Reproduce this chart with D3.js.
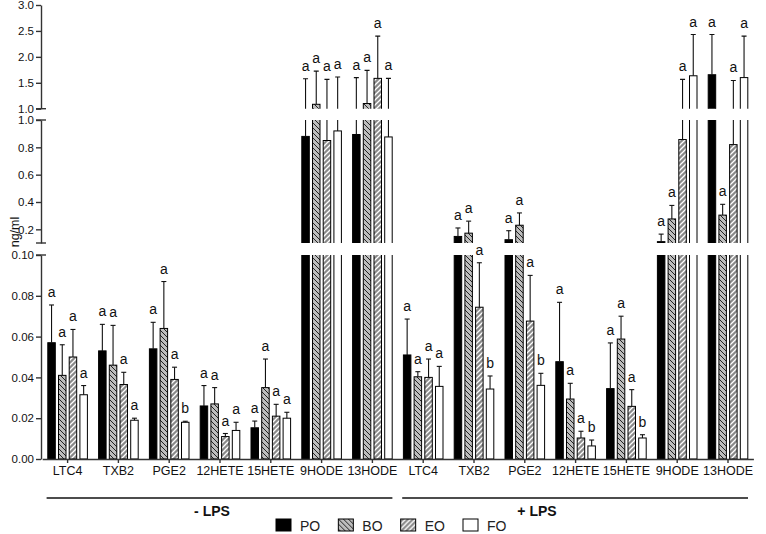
<!DOCTYPE html>
<meta charset="utf-8">
<style>
body { margin: 0; background: #fff; }
svg { display: block; font-family: "Liberation Sans", Arial, sans-serif; }
.axis path, .axis line { stroke: #333; stroke-width: 1.4; }
.axis text { font-size: 11.5px; fill: #111; }
.xaxis text { font-size: 12.5px; }
.err { stroke: #111; stroke-width: 1.1; }
.letter { font-size: 14px; fill: #111; text-anchor: middle; }
</style>
<svg width="766" height="534"></svg>
<script src="https://cdnjs.cloudflare.com/ajax/libs/d3/7.8.5/d3.min.js"></script>
<script>

var svg = d3.select("svg");

// data
var categories = ["LTC4", "TXB2", "PGE2", "12HETE", "15HETE", "9HODE", "13HODE",
                  "LTC4", "TXB2", "PGE2", "12HETE", "15HETE", "9HODE", "13HODE"];
var series = ["PO", "BO", "EO", "FO"];
var conditions = ["- LPS", "+ LPS"];

var meanPO = [0.057, 0.053, 0.054, 0.026, 0.0153, 0.88, 0.894, 0.051, 0.148, 0.124, 0.0477, 0.0345, 0.11, 1.655];
var meanBO = [0.041, 0.046, 0.064, 0.027, 0.035, 1.085, 1.10, 0.0403, 0.172, 0.23, 0.0294, 0.0588, 0.276, 0.304];
var meanEO = [0.050, 0.0365, 0.039, 0.011, 0.021, 0.85, 1.585, 0.040, 0.0744, 0.0676, 0.0103, 0.0258, 0.857, 0.82];
var meanFO = [0.0315, 0.019, 0.018, 0.014, 0.020, 0.92, 0.876, 0.0356, 0.0343, 0.0361, 0.0064, 0.0103, 1.635, 1.60];

var semPO = [0.0185, 0.013, 0.013, 0.010, 0.0033, 0.697, 0.706, 0.0176, 0.062, 0.066, 0.0291, 0.0224, 0.055, 0.775];
var semBO = [0.015, 0.0195, 0.023, 0.008, 0.014, 0.64, 0.64, 0.0025, 0.088, 0.09, 0.0077, 0.0112, 0.099, 0.079];
var semEO = [0.0135, 0.006, 0.006, 0.0015, 0.0058, 0.715, 0.815, 0.009, 0.0218, 0.0224, 0.0033, 0.0082, 0.708, 0.725];
var semFO = [0.0045, 0.001, 0.0005, 0.004, 0.0029, 0.69, 0.709, 0.0098, 0.0064, 0.0059, 0.0029, 0.0016, 0.795, 0.80];

var letterPO = ["a", "a", "a", "a", "a", "a", "a", "a", "a", "a", "a", "a", "a", "a"];
var letterBO = ["a", "a", "a", "a", "a", "a", "a", "a", "a", "a", "a", "a", "a", "a"];
var letterEO = ["a", "a", "a", "a", "a", "a", "a", "a", "a", "a", "a", "a", "a", "a"];
var letterFO = ["a", "a", "b", "a", "a", "a", "a", "a", "b", "b", "b", "b", "a", "a"];

var means = {PO: meanPO, BO: meanBO, EO: meanEO, FO: meanFO};
var sems = {PO: semPO, BO: semBO, EO: semEO, FO: semFO};
var letters = {PO: letterPO, BO: letterBO, EO: letterEO, FO: letterFO};

var rows = [];
categories.forEach(function(c, i) {
  series.forEach(function(s) {
    rows.push({i: i, s: s, v: means[s][i], top: means[s][i] + sems[s][i], letter: letters[s][i]});
  });
});

var fills = {PO: "#000", BO: "url(#hatchBO)", EO: "url(#hatchEO)", FO: "#fff"};

// patterns
var defs = svg.append("defs");
var pBO = defs.append("pattern").attr("id", "hatchBO")
    .attr("patternUnits", "userSpaceOnUse").attr("width", 5).attr("height", 5);
pBO.append("rect").attr("width", 5).attr("height", 5).attr("fill", "#bdbdbd");
pBO.append("path").attr("d", "M-1,-1L6,6M-1,4L1,6M4,-1L6,1")
    .attr("stroke", "#111").attr("stroke-width", 0.9);
var pEO = defs.append("pattern").attr("id", "hatchEO")
    .attr("patternUnits", "userSpaceOnUse").attr("width", 5).attr("height", 5);
pEO.append("rect").attr("width", 5).attr("height", 5).attr("fill", "#8a8a8a");
pEO.append("path").attr("d", "M-1,6L6,-1M-1,1L1,-1M4,6L6,4")
    .attr("stroke", "#fff").attr("stroke-width", 1.3);

// scales
var x0 = d3.scaleBand().domain(d3.range(categories.length)).range([42.2, 753.4]);
var x1 = d3.scaleBand().domain(series).range([-19.8, 19.8]).paddingInner(0.3);
function cx(d) { return x0(d.i) + x0.bandwidth() / 2; }

var panels = [
  {lo: 1, hi: 3, y0: 108.7, y1: 5, ticks: [1, 1.5, 2, 2.5, 3], fmt: ".1f"},
  {lo: 0.1, hi: 1, y0: 243, y1: 120, ticks: [0.2, 0.4, 0.6, 0.8, 1.0], fmt: ".1f"},
  {lo: 0, hi: 0.1, y0: 459, y1: 255, ticks: [0, 0.02, 0.04, 0.06, 0.08, 0.1], fmt: ".2f"}
];

panels.forEach(function(p, k) {
  p.y = d3.scaleLinear().domain([p.lo, p.hi]).range([p.y0, p.y1]);

  defs.append("clipPath").attr("id", "clip" + k)
    .append("rect").attr("x", 42).attr("y", p.y1 - (k === 0 ? 5 : 0))
    .attr("width", 724).attr("height", p.y0 - p.y1 + (k === 0 ? 5 : 0));

  var g = svg.append("g").attr("clip-path", "url(#clip" + k + ")");
  var inP = rows.filter(function(d) { return d.v > p.lo; });

  g.selectAll("rect").data(inP).enter().append("rect")
    .attr("x", function(d) { return cx(d) + x1(d.s); })
    .attr("width", x1.bandwidth())
    .attr("y", function(d) { return d.v > p.hi ? p.y1 - 3 : p.y(d.v); })
    .attr("height", function(d) {
      var t = d.v > p.hi ? p.y1 - 3 : p.y(d.v);
      return p.y0 + (p.lo > 0 ? 3 : 0) - t;
    })
    .attr("fill", function(d) { return fills[d.s]; })
    .attr("stroke", "#000").attr("stroke-width", 1);

  var errs = rows.filter(function(d) { return d.top > p.lo && d.v < p.hi; });
  g.selectAll("line.err").data(errs).enter().append("line")
    .attr("class", "err")
    .attr("x1", function(d) { return cx(d) + x1(d.s) + x1.bandwidth() / 2; })
    .attr("x2", function(d) { return cx(d) + x1(d.s) + x1.bandwidth() / 2; })
    .attr("y1", function(d) { return d.v < p.lo ? p.y0 + 3 : p.y(d.v); })
    .attr("y2", function(d) { return d.top > p.hi ? p.y1 - 3 : p.y(d.top); });

  var caps = rows.filter(function(d) { return d.top > p.lo && d.top <= p.hi; });
  g.selectAll("line.cap").data(caps).enter().append("line")
    .attr("class", "err cap")
    .attr("x1", function(d) { return cx(d) + x1(d.s) + x1.bandwidth() / 2 - 2.5; })
    .attr("x2", function(d) { return cx(d) + x1(d.s) + x1.bandwidth() / 2 + 2.5; })
    .attr("y1", function(d) { return p.y(d.top); })
    .attr("y2", function(d) { return p.y(d.top); });

  svg.append("g").selectAll("text").data(caps).enter().append("text")
    .attr("class", "letter")
    .attr("x", function(d) { return cx(d) + x1(d.s) + x1.bandwidth() / 2; })
    .attr("y", function(d) { return p.y(d.top) - 8; })
    .text(function(d) { return d.letter; });

  svg.append("g").attr("class", "axis")
    .attr("transform", "translate(41,0)")
    .call(d3.axisLeft(p.y).tickValues(p.ticks).tickFormat(d3.format(p.fmt))
      .tickSize(5).tickSizeOuter(0).tickPadding(2));
});

// break marks at panel ends
var breaks = [panels[0].y0, panels[1].y1, panels[1].y0, panels[2].y1];
svg.append("g").selectAll("line").data(breaks).enter().append("line")
  .attr("x1", 36).attr("x2", 46)
  .attr("y1", function(d) { return d; }).attr("y2", function(d) { return d; })
  .attr("stroke", "#333").attr("stroke-width", 1.4);

// x axis
svg.append("g").attr("class", "axis xaxis")
  .attr("transform", "translate(0,459)")
  .call(d3.axisBottom(x0).tickFormat(function(i) { return categories[i]; })
    .tickSize(4).tickSizeOuter(0).tickPadding(3));

// y label
svg.append("text")
  .attr("transform", "translate(19,232) rotate(-90)")
  .attr("text-anchor", "middle")
  .style("font-size", "12.5px").style("fill", "#111")
  .text("ng/ml");

// condition lines
var half = categories.length / 2;
conditions.forEach(function(c, k) {
  var a = x0(k * half) + x0.bandwidth() / 2 - 21;
  var b = x0(k * half + half - 1) + x0.bandwidth() / 2 + 20;
  svg.append("line")
    .attr("x1", a).attr("x2", b).attr("y1", 498).attr("y2", 498)
    .attr("stroke", "#111").attr("stroke-width", 1.6);
  svg.append("text")
    .attr("x", k === 0 ? 212 : 537).attr("y", 516)
    .attr("text-anchor", "middle")
    .style("font-size", "14px").style("font-weight", "bold").style("fill", "#111")
    .text(c);
});

// legend
var legendX = d3.scalePoint().domain(series).range([276, 463]);
var lg = svg.append("g").selectAll("g").data(series).enter().append("g")
  .attr("transform", function(s) { return "translate(" + legendX(s) + ",519)"; });
lg.append("rect").attr("width", 15).attr("height", 12)
  .attr("fill", function(s) { return fills[s]; })
  .attr("stroke", "#000").attr("stroke-width", 1);
lg.append("text").attr("x", 24).attr("y", 12)
  .style("font-size", "14px").style("fill", "#222")
  .text(function(s) { return s; });

</script>
